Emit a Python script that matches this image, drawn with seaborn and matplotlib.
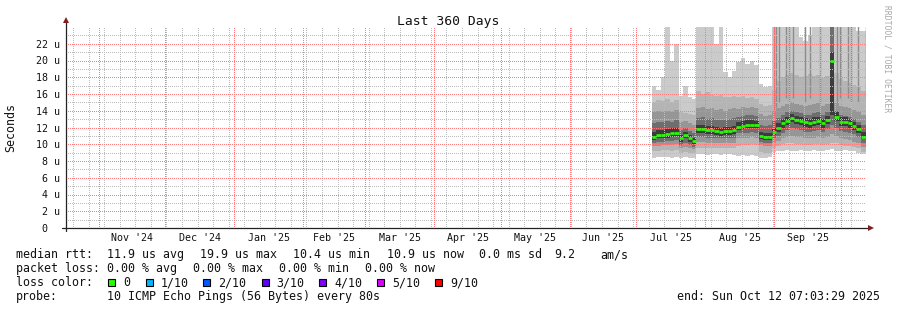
import numpy as np
import pandas as pd
import matplotlib
matplotlib.use("Agg")
import matplotlib.pyplot as plt
import matplotlib.dates as mdates
from matplotlib.patches import Rectangle
from matplotlib.ticker import FixedLocator, FixedFormatter, NullLocator
import seaborn as sns

# ---------------- data (microseconds) ----------------
end_time = pd.Timestamp("2025-10-12 07:03:29")
first_sample = pd.Timestamp("2025-07-08 00:00")
sample_days = 2  # each value covers two days

median = [10.9, 11.1, 11.1, 11.2, 11.3, 11.4,
          10.7, 11.1, 10.7, 10.4,
          11.8, 11.8, 11.7, 11.7, 11.6, 11.5, 11.6, 11.6, 11.7,
          12.1, 12.2, 12.3, 12.3, 12.3,
          11.0, 10.9, 10.9,
          11.5, 12.0, 12.5, 12.8, 13.1, 12.9, 12.8, 12.6, 12.5, 12.7, 12.8, 12.5, 12.9,
          19.9,
          13.3, 12.7, 12.7, 12.5, 12.2, 11.8,
          10.9]
p10 = [17.0, 16.5, 18.0, 24.5, 20.0, 22.0,
       15.8, 17.0, 15.6, 15.4,
       24.5, 24.5, 24.5, 24.5, 22.0, 24.5, 18.6, 18.0, 18.8,
       19.8, 20.3, 19.6, 19.9, 19.5,
       17.2, 16.8, 17.0,
       24.5, 24.5, 24.5, 24.5, 24.5, 24.5, 22.8, 22.3, 23.0, 24.5, 24.5, 24.5, 24.5,
       24.5,
       24.5, 24.5, 24.5, 24.5, 24.5, 23.5,
       23.5]
p9 = [15.0, 15.3, 15.2, 15.4, 15.0, 15.3,
      13.9, 13.7, 13.6, 13.5,
      16.3, 16.0, 16.2, 15.9, 15.8, 15.9, 15.6, 15.7, 15.8,
      15.6, 15.8, 15.5, 15.7, 15.4,
      14.8, 14.6, 14.7,
      16.5, 17.5, 18.0, 18.3, 18.5, 18.3, 18.0, 18.2, 18.4, 18.1, 18.3, 17.9, 18.2,
      24.5,
      18.5, 17.8, 17.5, 17.3, 17.1, 16.8,
      16.3]
p8 = [13.8, 14.0, 13.9, 14.0, 13.8, 14.1,
      12.6, 12.8, 12.5, 12.3,
      14.3, 14.4, 14.2, 14.3, 14.1, 14.2, 14.0, 14.2, 14.3,
      14.2, 14.4, 14.3, 14.5, 14.3,
      13.6, 13.4, 13.5,
      14.0, 14.3, 14.6, 14.8, 15.0, 14.8, 14.7, 14.6, 14.7, 14.8, 14.9, 14.6, 14.8,
      24.5,
      15.0, 14.6, 14.5, 14.3, 14.1, 13.9,
      13.5]
p7 = [12.5, 12.7, 12.6, 12.8, 12.7, 12.9,
      11.7, 11.9, 11.6, 11.4,
      13.1, 13.2, 13.0, 13.1, 12.9, 12.9, 12.9, 13.0, 13.1,
      13.3, 13.4, 13.5, 13.5, 13.4,
      12.3, 12.2, 12.3,
      12.8, 13.1, 13.5, 13.8, 14.0, 13.8, 13.7, 13.5, 13.5, 13.7, 13.8, 13.5, 13.8,
      24.5,
      14.0, 13.5, 13.4, 13.2, 13.0, 12.7,
      12.3]
p6 = [11.5, 11.7, 11.7, 11.8, 11.9, 12.0,
      11.1, 11.5, 11.1, 10.8,
      12.3, 12.3, 12.2, 12.2, 12.1, 12.0, 12.1, 12.1, 12.2,
      12.7, 12.8, 12.9, 12.9, 12.8,
      11.5, 11.4, 11.4,
      12.0, 12.5, 13.0, 13.3, 13.6, 13.4, 13.3, 13.1, 13.0, 13.2, 13.3, 13.0, 13.4,
      21.0,
      13.8, 13.2, 13.2, 13.0, 12.7, 12.3,
      11.5]
p5 = [10.5, 10.7, 10.7, 10.8, 10.9, 11.0,
      10.3, 10.7, 10.3, 10.0,
      11.3, 11.3, 11.2, 11.2, 11.1, 11.0, 11.1, 11.1, 11.2,
      11.7, 11.8, 11.9, 11.9, 11.9,
      10.6, 10.5, 10.5,
      11.1, 11.5, 12.0, 12.3, 12.6, 12.4, 12.3, 12.1, 12.0, 12.2, 12.3, 12.0, 12.4,
      13.5,
      12.8, 12.2, 12.2, 12.0, 11.7, 11.3,
      10.6]
p4 = [10.2, 10.3, 10.3, 10.4, 10.4, 10.5,
      9.9, 10.2, 9.9, 9.7,
      10.9, 10.9, 10.8, 10.8, 10.7, 10.7, 10.7, 10.8, 10.8,
      11.3, 11.4, 11.4, 11.5, 11.4,
      10.3, 10.2, 10.2,
      10.7, 11.0, 11.4, 11.7, 11.9, 11.8, 11.7, 11.5, 11.5, 11.6, 11.7, 11.5, 11.8,
      12.3,
      12.0, 11.6, 11.5, 11.4, 11.2, 10.9,
      10.1]
p3 = [9.8, 9.8, 9.9, 9.9, 9.9, 10.0,
      9.5, 9.7, 9.5, 9.4,
      10.3, 10.3, 10.2, 10.2, 10.1, 10.1, 10.1, 10.2, 10.2,
      10.7, 10.8, 10.8, 10.9, 10.8,
      9.9, 9.8, 9.8,
      10.2, 10.4, 10.7, 10.9, 11.0, 10.9, 10.9, 10.8, 10.7, 10.8, 10.9, 10.7, 10.9,
      11.2,
      11.0, 10.7, 10.6, 10.5, 10.3, 10.1,
      9.7]
p2 = [9.2, 9.2, 9.3, 9.3, 9.2, 9.3,
      9.0, 9.1, 9.0, 8.9,
      9.6, 9.6, 9.5, 9.6, 9.5, 9.5, 9.5, 9.6, 9.6,
      9.8, 9.9, 9.9, 10.0, 9.9,
      9.1, 9.0, 9.0,
      9.6, 9.8, 10.0, 10.1, 10.1, 10.0, 10.0, 9.9, 9.9, 10.0, 10.0, 9.9, 10.0,
      10.2,
      10.1, 9.9, 9.8, 9.8, 9.7, 9.5,
      9.1]
p1 = [8.4, 8.5, 8.5, 8.5, 8.4, 8.5,
      8.4, 8.5, 8.4, 8.4,
      8.8, 8.8, 8.7, 8.8, 8.8, 8.7, 8.8, 8.8, 8.7,
      8.6, 8.7, 8.6, 8.7, 8.6,
      8.4, 8.4, 8.5,
      9.1, 9.2, 9.2, 9.3, 9.2, 9.2, 9.3, 9.2, 9.2, 9.3, 9.2, 9.2, 9.3,
      9.4,
      9.2, 9.2, 9.3, 9.2, 9.2, 9.0,
      8.8]

# short single-step bursts where upper pings reached the top
burst_times = ["2025-09-01 02:00", "2025-09-02 00:00", "2025-09-03 08:00", "2025-09-06 12:00",
               "2025-09-07 20:00", "2025-09-09 16:00", "2025-09-15 01:00", "2025-09-17 07:00",
               "2025-09-21 19:00", "2025-09-29 00:30", "2025-09-30 12:00", "2025-10-04 10:00",
               "2025-10-05 08:00", "2025-10-08 22:00", "2025-10-12 02:00"]
burst_low = [13.5, 14.5, 15.0, 15.5, 15.0, 15.5, 15.0, 15.5, 15.0, 15.0, 15.5, 15.5, 15.0, 15.0, 15.5]
burst_high = [24.5] * len(burst_times)

y_tick_values = [0, 2, 4, 6, 8, 10, 12, 14, 16, 18, 20, 22]
y_tick_labels = ["0  ", "2 u", "4 u", "6 u", "8 u", "10 u", "12 u", "14 u",
                 "16 u", "18 u", "20 u", "22 u"]
y_minor_values = [1, 3, 5, 7, 9, 11, 13, 15, 17, 19, 21, 23]
month_labels = ["Nov '24", "Dec '24", "Jan '25", "Feb '25", "Mar '25", "Apr '25",
                "May '25", "Jun '25", "Jul '25", "Aug '25", "Sep '25"]

legend_rows = [
    [("median rtt:", 16), ("11.9 us avg", 107.3), ("19.9 us max", 200.3), ("10.4 us min", 293.3),
     ("10.9 us now", 386.7), ("0.0 ms sd", 478.7), ("9.2", 554.0), ("am/s", 600.0)],
    [("packet loss:", 16), ("0.00 % avg", 107.3), ("0.00 % max", 193.3), ("0.00 % min", 279.3),
     ("0.00 % now", 365.0)],
    [("loss color:", 16)],
    [("probe:", 16), ("10 ICMP Echo Pings (56 Bytes) every 80s", 107.3)],
]
loss_names = ["0", "1/10", "2/10", "3/10", "4/10", "5/10", "9/10"]
loss_colors = ["#26ff00", "#00b8ff", "#0059ff", "#5e00ff", "#7e00ff", "#dd00ff", "#ff0000"]
loss_box_x = [108.3, 146.0, 203.3, 261.7, 319.3, 377.3, 435.0]
loss_text_x = [123.3, 160.7, 218.3, 276.7, 334.3, 392.3, 450.0]

# ---------------- figure ----------------
sns.set_theme(style="white")
plt.rcParams["font.family"] = ["DejaVu Sans Mono", "DejaVu Sans"]

W, H = 897, 310
fig = plt.figure(figsize=(W / 100, H / 100), dpi=100)
fig.patch.set_facecolor("white")
L, R, T, B = 66, 866, 27, 228
ax = fig.add_axes([L / W, 1 - B / H, (R - L) / W, (B - T) / H])
ax.set_facecolor("white")

start_time = end_time - pd.Timedelta(days=360)
times = pd.date_range(first_sample, periods=len(median), freq=f"{sample_days}D")
xs = list(times) + [end_time]


def ext(v):
    return list(v) + [v[-1]]


smoke_pairs = [(p1, p10), (p2, p9), (p3, p8), (p4, p7), (p5, p6)]
smoke_colors = ["#cbcbcb", "#b4b4b4", "#969696", "#6e6e6e", "#3c3c3c"]
for (lo, hi), c in zip(smoke_pairs, smoke_colors):
    ax.fill_between(xs, ext(lo), ext(hi), step="post", color=c, lw=0, zorder=1)

ax.vlines(pd.to_datetime(burst_times), burst_low, burst_high, colors="#8c8c8c", lw=1.0, zorder=1.2)

# median: one horizontal piece per sample (no risers), drawn with seaborn
seg_rows = []
for i, m in enumerate(median):
    seg_rows.append({"time": xs[i], "median": m, "step": i})
    seg_rows.append({"time": xs[i + 1], "median": m, "step": i})
seg_df = pd.DataFrame(seg_rows)
sns.lineplot(data=seg_df, x="time", y="median", units="step", estimator=None, ax=ax,
             color="#26ff00", lw=1.9, zorder=4, solid_capstyle="butt")

ax.set_xlim(start_time, end_time)
ax.set_ylim(0, 24)
ax.set_xlabel("")
ax.set_ylabel("")
ax.grid(False)

# grid drawn as dotted lines: 1 px on / 1 px off, pattern shifted half a pixel
# so that each dot lands exactly on one pixel
month_starts = pd.date_range("2024-11-01", "2025-10-01", freq="MS")
week_lines = pd.date_range("2024-10-20 12:00", end_time, freq="7D")
GLW = 0.72  # 1 px


def dotted(line):
    line.set_linestyle((0.5, (1.0, 1.0)))
    line.set_dash_capstyle("butt")
    return line


for d in week_lines:
    dotted(ax.axvline(d, color="#bcbcbc", lw=GLW, zorder=3))
for yv in y_minor_values:
    dotted(ax.axhline(yv, color="#bcbcbc", lw=GLW, zorder=3))
for d in month_starts:
    dotted(ax.axvline(d, color="#ff7a7a", lw=GLW, zorder=3.1))
for yv in y_tick_values[1:]:
    dotted(ax.axhline(yv, color="#ff7a7a", lw=GLW, zorder=3.1))

ax.xaxis.set_major_locator(NullLocator())
ax.xaxis.set_minor_locator(NullLocator())
ax.yaxis.set_major_locator(FixedLocator(y_tick_values))
ax.yaxis.set_major_formatter(FixedFormatter(y_tick_labels))
ax.yaxis.set_minor_locator(NullLocator())
ax.tick_params(axis="y", which="major", length=3, width=0.8, direction="out",
               color="#333333", pad=1.6, labelsize=7.2, labelcolor="#111111")
for s in ax.spines.values():
    s.set_visible(False)

# axes lines with arrows
axis_col = "#222222"
arrow_col = "#7f1f1f"
ax.plot([-4 / 800, 1.004], [0, 0], transform=ax.transAxes, color=axis_col, lw=0.9, clip_on=False, zorder=5)
ax.plot([0, 0], [-3 / 201, 1.03], transform=ax.transAxes, color=axis_col, lw=0.9, clip_on=False, zorder=5)
ax.plot([1.006], [0], marker=">", markersize=4.2, color=arrow_col, transform=ax.transAxes,
        clip_on=False, zorder=6, markeredgewidth=0)
ax.plot([0], [1.035], marker="^", markersize=4.2, color=arrow_col, transform=ax.transAxes,
        clip_on=False, zorder=6, markeredgewidth=0)

# month labels centred in each month
mids = [m + (n - m) / 2 for m, n in zip(month_starts[:-1], month_starts[1:])]
for d, lab in zip(mids, month_labels):
    ax.text(mdates.date2num(d), -(240.7 - B) / (B - T), lab, transform=ax.get_xaxis_transform(),
            ha="center", va="baseline", fontsize=7.2, color="#111111")


def fy(y):
    return 1 - y / H


fig.text(448 / W, fy(24.5), "Last 360 Days", ha="center", va="baseline", fontsize=9.4, color="#111111")
fig.text(11 / W, fy(127.5), "Seconds", rotation=90, ha="center", va="center", fontsize=8.4, color="#111111")
fig.text(887 / W, fy(59), "RRDTOOL / TOBI OETIKER", rotation=270, ha="center", va="center",
         fontsize=5.8, color="#a8a8a8")

baselines = [258.3, 272.3, 286.5, 300.3]
for row, yb in zip(legend_rows, baselines):
    for txt, x in row:
        fig.text(x / W, fy(yb), txt, ha="left", va="baseline", fontsize=8.4, color="#111111")
for bx, tx, name, c in zip(loss_box_x, loss_text_x, loss_names, loss_colors):
    fig.add_artist(Rectangle((bx / W, fy(286.0)), 7 / W, 7 / H, transform=fig.transFigure,
                             facecolor=c, edgecolor="black", lw=0.8))
    fig.text(tx / W, fy(286.5), name, ha="left", va="baseline", fontsize=8.4, color="#111111")
fig.text(880 / W, fy(300.3), "end: Sun Oct 12 07:03:29 2025", ha="right", va="baseline",
         fontsize=8.4, color="#111111")

fig.savefig("out.png", dpi=100, facecolor="white")
